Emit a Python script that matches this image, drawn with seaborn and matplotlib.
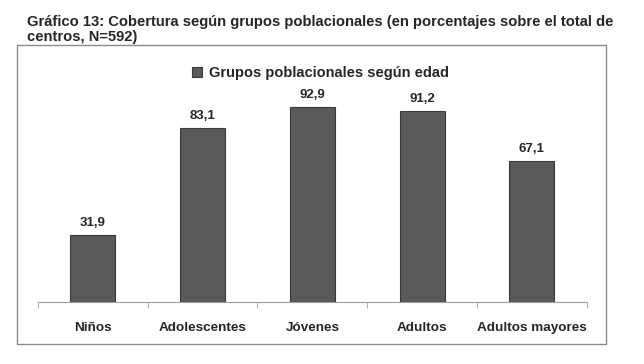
import matplotlib.pyplot as plt
import seaborn as sns
import pandas as pd
from matplotlib.patches import Rectangle

# datos
grupos = ['Niños', 'Adolescentes', 'Jóvenes', 'Adultos', 'Adultos mayores']
cobertura = [31.9, 83.1, 92.9, 91.2, 67.1]
serie = 'Grupos poblacionales según edad'

df = pd.DataFrame({'grupo': grupos, 'valor': cobertura, 'serie': serie})

sns.set_style('white')
plt.rcParams['font.family'] = ['Liberation Sans', 'DejaVu Sans']

fig = plt.figure(figsize=(6.44, 3.64), dpi=100)
ax = fig.add_axes([0.059, 0.170, 0.852, 0.605])

# marco exterior
fig.patches.append(Rectangle((0.026, 0.055), 0.915, 0.821, transform=fig.transFigure,
                             fill=False, edgecolor='#8c8c8c', linewidth=1.0))

sns.barplot(data=df, x='grupo', y='valor', hue='serie', palette=['#595959'],
            width=0.41, edgecolor='#3a3a3a', linewidth=0.8, ax=ax)

for i, v in enumerate(cobertura):
    ax.text(i, v + 3, f'{v:.1f}'.replace('.', ','), ha='center', va='bottom',
            fontsize=9.5, fontweight='bold')

ax.set_ylim(0, 105)
ax.set_xlim(-0.5, len(grupos) - 0.5)
ax.set_xlabel('')
ax.set_ylabel('')
ax.set_yticks([])
for s in ['top', 'right', 'left']:
    ax.spines[s].set_visible(False)
ax.spines['bottom'].set_color('#a0a0a0')
ax.set_xticks([i - 0.5 for i in range(len(grupos) + 1)], minor=True)
ax.tick_params(axis='x', which='minor', length=4, color='#a0a0a0', direction='out', bottom=True)
ax.tick_params(axis='x', which='major', length=0, pad=14)
ax.set_xticklabels(grupos, fontsize=9.7, fontweight='bold')

leg = ax.legend(loc='upper center', bbox_to_anchor=(0.515, 1.13), frameon=False,
                handlelength=0.7, handleheight=0.7, handletextpad=0.5,
                prop={'size': 10.5, 'weight': 'bold'})

fig.text(0.042, 0.96, 'Gráfico 13: Cobertura según grupos poblacionales (en porcentajes sobre el total de\ncentros, N=592)',
         ha='left', va='top', fontsize=10.6, fontweight='bold', linespacing=1.12)

fig.savefig('out.png', dpi=100)
